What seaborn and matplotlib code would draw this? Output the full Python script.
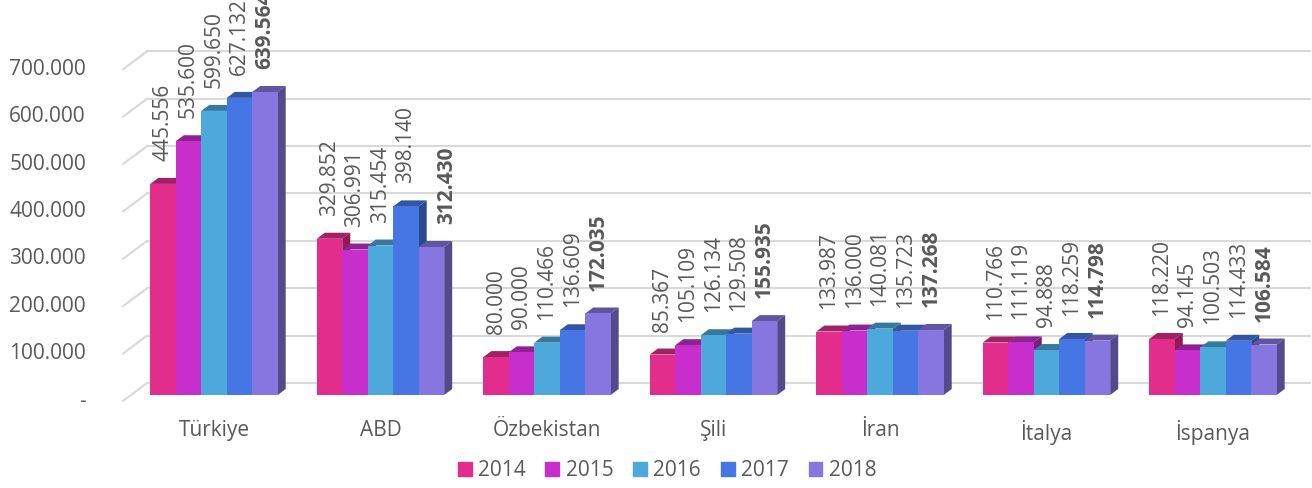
import seaborn as sns
import numpy as np
import pandas as pd
import matplotlib.pyplot as plt
from matplotlib.patches import Polygon, Patch
from matplotlib.colors import to_rgb

countries = ['Türkiye', 'ABD', 'Özbekistan', 'Şili', 'İran', 'İtalya', 'İspanya']
years = ['2014', '2015', '2016', '2017', '2018']
v2014 = [445556, 329852, 80000, 85367, 133987, 110766, 118220]
v2015 = [535600, 306991, 90000, 105109, 136000, 111119, 94145]
v2016 = [599650, 315454, 110466, 126134, 140081, 94888, 100503]
v2017 = [627132, 398140, 136609, 129508, 135723, 118259, 114433]
v2018 = [639564, 312430, 172035, 155935, 137268, 114798, 106584]
yticks = [0, 100000, 200000, 300000, 400000, 500000, 600000, 700000]

colors = ['#E22D8C', '#C72ECC', '#4DA8DC', '#4676E4', '#8775E0']
grey = '#595959'

series = [v2014, v2015, v2016, v2017, v2018]
df = pd.DataFrame({
    'country': np.repeat([countries], 5, axis=0).ravel(),
    'year': np.repeat(years, len(countries)),
    'value': np.concatenate(series),
})

sns.set_style('white')
plt.rcParams['font.family'] = ['Open Sans', 'DejaVu Sans']

W, H = 1312, 488
fig = plt.figure(figsize=(W / 100, H / 100), dpi=100)
ax_l, ax_r, ax_b = 123, 1310, 395
ax = fig.add_axes([ax_l / W, (H - ax_b) / H, (ax_r - ax_l) / W, ax_b / H])

px_per_unit = 303 / 639564
cat_px = 166.5
ax.set_ylim(0, ax_b / px_per_unit)
x0 = (ax_l - 214) / cat_px

sns.barplot(data=df, x='country', y='value', hue='year', order=countries,
            hue_order=years, palette=colors, saturation=1, width=0.765,
            errorbar=None, ax=ax, legend=False)
ax.set_xlim(x0, x0 + (ax_r - ax_l) / cat_px)

# pseudo 3d faces
dx = 8 / cat_px
dy = 6 / px_per_unit
pad = 16.5
for k, cont in enumerate(ax.containers):
    base = np.array(to_rgb(colors[k]))
    for p in cont.patches:
        p.set_zorder(3 + k + 0.5)
        p.set_edgecolor('none')
        L, R, h = p.get_x(), p.get_x() + p.get_width(), p.get_height()
        top = Polygon([(L, h), (R, h), (R + dx, h + dy), (L + dx, h + dy)],
                      closed=True, fc=base * 0.72, ec='none', zorder=3 + k, clip_on=False)
        side = Polygon([(R, 0), (R + dx, dy), (R + dx, h + dy), (R, h)],
                       closed=True, fc=base * 0.62, ec='none', zorder=3 + k, clip_on=False)
        ax.add_patch(top)
        ax.add_patch(side)
    labels = [f"{int(v):,}".replace(',', '.') for v in series[k]]
    anns = ax.bar_label(cont, labels=labels, rotation=90, padding=pad, fontsize=15,
                        color=grey, fontweight='bold' if k == 4 else 'normal', zorder=10)
    if k == 4:
        # ABD 2018 label sits a bit to the right in the original
        anns[1].xyann = (11, pad)

# back grid lines and floor diagonals
ytr = ax.get_yaxis_transform()
back_x = 24 / (ax_r - ax_l)
up = 12 / px_per_unit
down = 6 / px_per_unit
for v in yticks:
    ax.plot([back_x, 1], [v + up, v + up], transform=ytr, color='#D9D9D9',
            lw=1.5, zorder=1, clip_on=False)
    ax.plot([0, back_x], [v - down, v + up], transform=ytr, color='#D9D9D9',
            lw=1.5, zorder=1, clip_on=False)
    lab = '-' if v == 0 else f"{v:,}".replace(',', '.')
    ax.text(-37 / (ax_r - ax_l), v - down, lab, transform=ytr, ha='right',
            va='center', fontsize=15, color=grey)

for s in ax.spines.values():
    s.set_visible(False)
ax.set_yticks([])
ax.set_xlabel('')
ax.set_ylabel('')
ax.tick_params(axis='x', length=0, pad=18, labelsize=15, labelcolor=grey)
ax.patch.set_alpha(0)

handles = [Patch(color=c, label=y) for c, y in zip(colors, years)]
fig.legend(handles=handles, loc='center', bbox_to_anchor=(667 / W, 1 - 471 / H),
           ncol=5, frameon=False, fontsize=15, handlelength=0.67, handleheight=0.67,
           handletextpad=0.3, columnspacing=0.95, labelcolor=grey)

fig.savefig('out.png', dpi=100)
